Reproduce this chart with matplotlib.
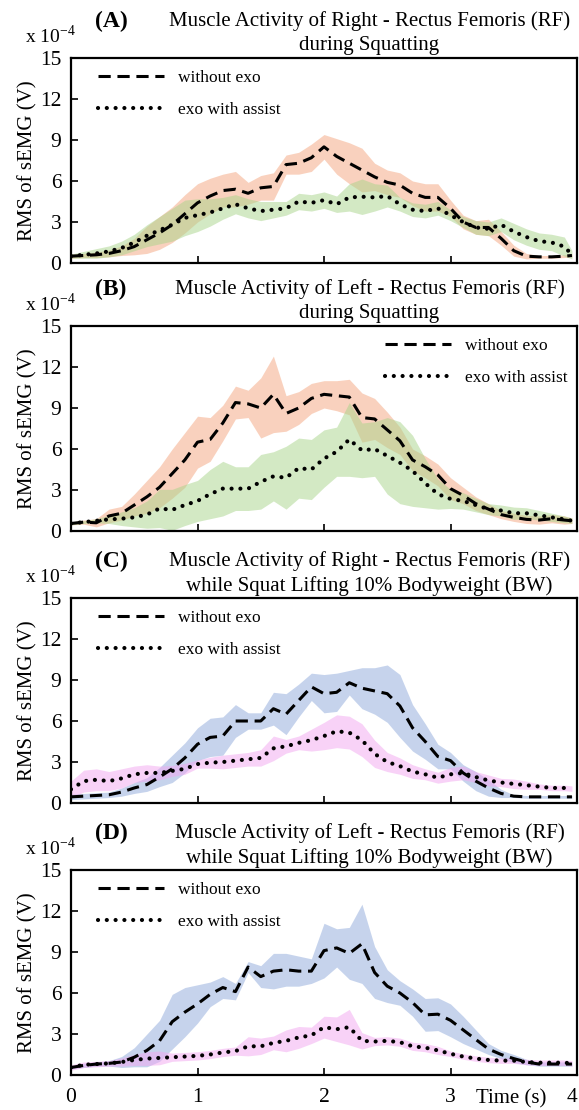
import numpy as np
import matplotlib
matplotlib.use("Agg")
import matplotlib.pyplot as plt

plt.rcParams['font.family'] = ['Liberation Serif', 'DejaVu Serif']
plt.rcParams['mathtext.fontset'] = 'custom'
plt.rcParams['mathtext.rm'] = 'Liberation Serif'

# time grid (s)
t = np.round(np.append(np.arange(0, 4.0, 0.1), 3.96), 2)

# (A) Right RF, squatting
a_noexo = [0.5, 0.55, 0.6, 0.7, 0.9, 1.2, 1.7, 2.2, 2.8, 3.6, 4.4, 4.9, 5.3, 5.4, 5.1, 5.5, 5.6, 7.2, 7.3, 7.7,
           8.5, 7.8, 7.3, 6.8, 6.3, 5.9, 5.7, 5.1, 4.8, 4.8, 4.0, 3.0, 2.6, 2.6, 1.8, 0.9, 0.5, 0.45, 0.45, 0.5, 0.55]
a_noexo_sd = [0.15, 0.15, 0.2, 0.25, 0.35, 0.6, 1.0, 1.2, 1.3, 1.4, 1.4, 1.3, 1.2, 1.3, 0.8, 0.9, 1.0, 0.7, 0.8, 1.0,
              0.9, 1.3, 1.5, 1.6, 1.0, 0.9, 0.9, 0.9, 1.0, 1.0, 0.6, 0.5, 0.5, 0.6, 0.5, 0.4, 0.2, 0.1, 0.1, 0.1, 0.1]
a_exo = [0.5, 0.6, 0.7, 0.85, 1.1, 1.5, 2.0, 2.4, 2.8, 3.3, 3.5, 3.7, 4.0, 4.3, 4.0, 3.8, 3.9, 4.0, 4.5, 4.4,
         4.6, 4.3, 4.8, 4.85, 4.8, 4.9, 4.3, 3.9, 3.8, 4.0, 3.5, 3.0, 2.6, 2.5, 2.8, 2.3, 1.9, 1.6, 1.5, 1.2, 0.6]
a_exo_sd = [0.15, 0.25, 0.35, 0.4, 0.5, 0.6, 0.8, 1.0, 1.2, 1.3, 1.2, 1.0, 0.8, 0.7, 0.7, 0.7, 0.6, 0.5, 0.6, 0.6,
            0.6, 0.6, 1.0, 1.3, 1.0, 0.8, 0.5, 0.5, 0.5, 0.5, 0.4, 0.4, 0.5, 0.5, 0.5, 0.6, 0.6, 0.6, 0.6, 0.7, 0.3]

# (B) Left RF, squatting
b_noexo = [0.55, 0.65, 0.6, 1.1, 1.3, 1.9, 2.5, 3.2, 4.2, 5.2, 6.5, 6.7, 7.9, 9.4, 9.3, 9.0, 10.0, 8.6, 9.0, 9.7,
           10.0, 9.9, 9.8, 8.3, 8.2, 7.4, 6.6, 5.2, 4.7, 4.1, 3.1, 2.6, 2.0, 1.6, 1.2, 1.0, 0.85, 0.8, 0.9, 0.8, 0.75]
b_noexo_sd = [0.1, 0.15, 0.3, 0.5, 0.5, 0.8, 1.2, 1.5, 1.8, 2.0, 1.9, 1.6, 1.3, 1.2, 1.0, 2.2, 2.8, 1.3, 1.2, 1.1,
              1.0, 1.1, 1.3, 1.8, 1.5, 1.3, 1.0, 0.8, 0.8, 0.8, 0.8, 0.6, 0.5, 0.4, 0.3, 0.3, 0.3, 0.3, 0.3, 0.3, 0.2]
b_exo = [0.55, 0.65, 0.75, 0.85, 0.9, 1.0, 1.2, 1.65, 1.55, 1.9, 2.2, 2.7, 3.1, 3.1, 3.1, 3.6, 4.0, 3.9, 4.6, 4.5,
         5.3, 5.8, 6.7, 5.9, 6.0, 5.5, 5.0, 4.4, 3.5, 2.7, 2.35, 2.2, 1.9, 1.6, 1.5, 1.3, 1.3, 1.15, 1.0, 0.85, 0.75]
b_exo_sd = [0.1, 0.1, 0.15, 0.3, 0.5, 0.7, 1.0, 1.4, 1.5, 1.5, 1.5, 1.8, 2.0, 1.6, 1.6, 2.0, 1.8, 2.3, 2.2, 2.2,
            2.1, 1.8, 2.7, 2.0, 2.0, 2.8, 3.0, 2.6, 1.8, 1.1, 0.7, 0.6, 0.5, 0.4, 0.4, 0.45, 0.4, 0.35, 0.3, 0.25, 0.2]

# (C) Right RF, squat lifting 10% BW
c_noexo = [0.45, 0.5, 0.55, 0.6, 0.8, 1.1, 1.35, 1.9, 2.5, 3.3, 4.3, 4.8, 4.9, 6.0, 6.0, 6.0, 6.9, 6.5, 7.5, 8.5,
           8.0, 8.1, 8.8, 8.4, 8.2, 8.0, 7.1, 5.5, 4.5, 3.4, 3.1, 2.2, 1.6, 1.1, 0.7, 0.5, 0.45, 0.45, 0.45, 0.45, 0.45]
c_noexo_sd = [0.2, 0.2, 0.2, 0.2, 0.3, 0.4, 0.5, 0.7, 1.0, 1.1, 1.2, 1.4, 1.4, 1.2, 0.6, 0.6, 1.2, 1.5, 1.2, 1.0,
              1.4, 1.4, 0.9, 1.5, 1.7, 2.1, 2.3, 1.7, 1.3, 0.9, 0.6, 0.6, 0.7, 0.6, 0.3, 0.1, 0.1, 0.1, 0.1, 0.1, 0.1]
c_exo = [1.0, 1.6, 1.7, 1.6, 1.8, 2.1, 2.2, 2.2, 2.35, 2.5, 2.85, 2.95, 3.0, 3.1, 3.2, 3.3, 4.0, 4.15, 4.4, 4.6,
         4.9, 5.25, 5.15, 4.6, 3.6, 3.0, 2.7, 2.3, 2.1, 1.85, 2.1, 2.2, 1.9, 1.65, 1.5, 1.4, 1.3, 1.2, 1.1, 1.1, 1.05]
c_exo_sd = [0.6, 0.8, 0.8, 0.7, 0.7, 0.6, 0.6, 0.5, 0.4, 0.4, 0.3, 0.4, 0.5, 0.5, 0.5, 0.6, 0.9, 0.5, 0.5, 0.8,
            1.0, 1.2, 1.2, 1.2, 1.0, 0.7, 0.6, 0.5, 0.4, 0.4, 0.5, 0.5, 0.4, 0.4, 0.3, 0.35, 0.3, 0.2, 0.2, 0.2, 0.2]

# (D) Left RF, squat lifting 10% BW
d_noexo = [0.55, 0.7, 0.8, 0.85, 0.95, 1.3, 1.8, 2.5, 3.9, 4.6, 5.2, 5.9, 6.4, 6.1, 7.9, 7.2, 7.6, 7.7, 7.6, 7.6,
           9.1, 9.3, 8.9, 9.6, 7.5, 6.5, 6.0, 5.3, 4.4, 4.45, 4.0, 3.3, 2.6, 1.9, 1.5, 1.2, 0.95, 0.8, 0.8, 0.8, 0.8]
d_noexo_sd = [0.1, 0.15, 0.15, 0.2, 0.4, 0.7, 1.2, 1.5, 2.0, 1.8, 1.4, 0.9, 0.8, 0.6, 0.4, 0.8, 1.3, 1.2, 1.1, 0.9,
              2.0, 1.4, 1.9, 2.9, 1.9, 1.2, 0.9, 1.0, 1.2, 1.2, 1.2, 1.0, 0.7, 0.4, 0.3, 0.3, 0.2, 0.15, 0.15, 0.15, 0.15]
d_exo = [0.55, 0.75, 0.8, 0.85, 0.95, 1.1, 1.2, 1.25, 1.3, 1.35, 1.4, 1.5, 1.65, 1.75, 2.1, 2.1, 2.35, 2.5, 2.75, 2.9,
         3.5, 3.35, 3.5, 2.5, 2.45, 2.5, 2.4, 2.1, 2.0, 1.8, 1.55, 1.35, 1.2, 1.1, 1.05, 1.05, 0.95, 0.9, 0.9, 0.9, 0.85]
d_exo_sd = [0.2, 0.2, 0.2, 0.2, 0.3, 0.4, 0.5, 0.5, 0.3, 0.3, 0.3, 0.3, 0.3, 0.3, 0.7, 0.6, 0.5, 0.8, 0.8, 0.6,
            0.8, 0.9, 1.3, 0.6, 0.3, 0.3, 0.3, 0.3, 0.3, 0.3, 0.2, 0.2, 0.2, 0.2, 0.2, 0.2, 0.2, 0.2, 0.2, 0.2, 0.2]

labels = ['(A)', '(B)', '(C)', '(D)']
title_line1 = ['Muscle Activity of Right - Rectus Femoris (RF)',
               'Muscle Activity of Left - Rectus Femoris (RF)',
               'Muscle Activity of Right - Rectus Femoris (RF)',
               'Muscle Activity of Left - Rectus Femoris (RF)']
title_line2 = ['during Squatting', 'during Squatting',
               'while Squat Lifting 10% Bodyweight (BW)',
               'while Squat Lifting 10% Bodyweight (BW)']
panels = [(a_noexo, a_noexo_sd, a_exo, a_exo_sd),
          (b_noexo, b_noexo_sd, b_exo, b_exo_sd),
          (c_noexo, c_noexo_sd, c_exo, c_exo_sd),
          (d_noexo, d_noexo_sd, d_exo, d_exo_sd)]
band_colors = [('#F4A57E', '#A8D48A'), ('#F4A57E', '#A8D48A'),
               ('#8EA9DB', '#F2A6F0'), ('#8EA9DB', '#F2A6F0')]

fig = plt.figure(figsize=(5.79, 11.10), dpi=100)
W, H = 579, 1110
bottoms = [263, 531, 803, 1075]   # pixel y of x-axis for each panel
ax_h = 205
left, right = 71, 577

for i in range(4):
    ax = fig.add_axes([left / W, 1 - bottoms[i] / H, (right - left) / W, ax_h / H])
    m1, s1, m2, s2 = [np.array(v) for v in panels[i]]
    c1, c2 = band_colors[i]
    ax.fill_between(t, m1 - s1, m1 + s1, color=c1, alpha=0.5, lw=0)
    ax.fill_between(t, m2 - s2, m2 + s2, color=c2, alpha=0.5, lw=0)
    ax.plot(t, m1, color='black', lw=2.2, ls=(0, (4.0, 2.2)), label='without exo')
    ax.plot(t, m2, color='black', lw=3.0, ls=(0, (0.01, 2.1)), dash_capstyle='round',
            label='exo with assist')
    ax.set_xlim(0, 4)
    ax.set_ylim(0, 15)
    ax.set_yticks([0, 3, 6, 9, 12, 15])
    ax.set_xticks([0, 1, 2, 3, 4])
    ax.tick_params(direction='in', length=5, width=1.2, labelsize=15.5)
    ax.tick_params(axis='y', pad=7)
    ax.tick_params(axis='x', pad=9)
    for sp in ax.spines.values():
        sp.set_linewidth(1.6)
    if i < 3:
        ax.set_xticklabels([])
    else:
        ax.get_xticklabels()[-1].set_ha('right')
    ax.set_ylabel('RMS of sEMG (V)', fontsize=15, labelpad=2)
    ax.text(-0.091, 1.107, 'x 10$^{-4}$', transform=ax.transAxes, fontsize=14,
            ha='left', va='center')
    ax.text(0.047, 1.18, labels[i], transform=ax.transAxes, fontsize=17,
            fontweight='bold', ha='left', va='center')
    ax.text(0.59, 1.18, title_line1[i], transform=ax.transAxes, fontsize=15,
            ha='center', va='center')
    ax.text(0.59, 1.059, title_line2[i], transform=ax.transAxes, fontsize=15,
            ha='center', va='center')
    if i == 1:
        ax.legend(loc='upper right', bbox_to_anchor=(0.995, 0.975), frameon=False,
                  fontsize=12.5, handlelength=3.8, labelspacing=0.9, borderaxespad=0)
    else:
        ax.legend(loc='upper left', bbox_to_anchor=(0.04, 0.975), frameon=False,
                  fontsize=12.5, handlelength=3.8, labelspacing=0.9, borderaxespad=0)

ax.text(0.87, -0.115, 'Time (s)', transform=ax.transAxes, fontsize=15, ha='center', va='center')

fig.savefig('out.png', dpi=100)
